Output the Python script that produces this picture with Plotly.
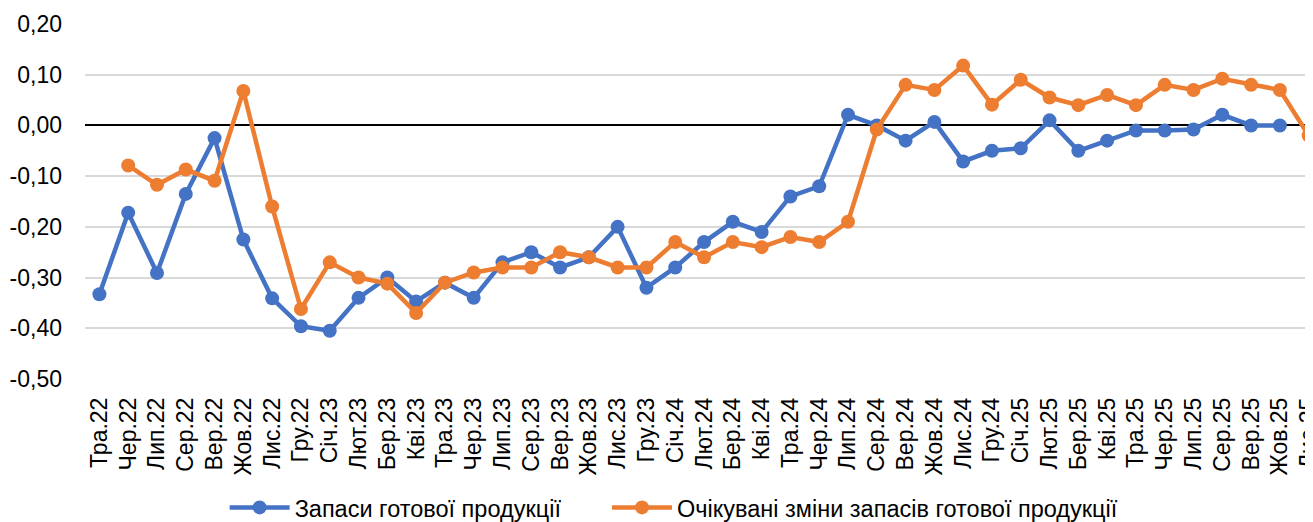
import plotly.graph_objects as go

categories = ["Тра.22","Чер.22","Лип.22","Сер.22","Вер.22","Жов.22","Лис.22","Гру.22",
              "Січ.23","Лют.23","Бер.23","Кві.23","Тра.23","Чер.23","Лип.23","Сер.23","Вер.23","Жов.23","Лис.23","Гру.23",
              "Січ.24","Лют.24","Бер.24","Кві.24","Тра.24","Чер.24","Лип.24","Сер.24","Вер.24","Жов.24","Лис.24","Гру.24",
              "Січ.25","Лют.25","Бер.25","Кві.25","Тра.25","Чер.25","Лип.25","Сер.25","Вер.25","Жов.25","Лис.25"]

stocks = [-0.333, -0.172, -0.291, -0.135, -0.025, -0.225, -0.341, -0.396,
          -0.405, -0.340, -0.30, -0.347, -0.31, -0.34, -0.27, -0.25, -0.28, -0.26, -0.20, -0.32,
          -0.28, -0.23, -0.19, -0.21, -0.14, -0.12, 0.021, 0.0, -0.03, 0.007, -0.071, -0.05,
          -0.045, 0.01, -0.05, -0.03, -0.01, -0.01, -0.008, 0.021, 0.0, 0.0, None]

expected = [None, -0.079, -0.117, -0.087, -0.109, 0.068, -0.16, -0.362,
            -0.27, -0.30, -0.312, -0.37, -0.31, -0.29, -0.28, -0.28, -0.25, -0.26, -0.28, -0.28,
            -0.23, -0.26, -0.23, -0.24, -0.22, -0.23, -0.19, -0.008, 0.08, 0.07, 0.118, 0.041,
            0.09, 0.055, 0.04, 0.06, 0.04, 0.08, 0.07, 0.092, 0.08, 0.07, -0.02]

y_tick_values = [0.20, 0.10, 0.00, -0.10, -0.20, -0.30, -0.40, -0.50]
y_tick_labels = ["0,20", "0,10", "0,00", "-0,10", "-0,20", "-0,30", "-0,40", "-0,50"]

series_names = ["Запаси готової продукції", "Очікувані зміни запасів готової продукції"]
colors = ["#4472C4", "#ED7D31"]
legend_ids = ["legend", "legend2"]

fig = go.Figure()
for name, vals, col, lg in zip(series_names, [stocks, expected], colors, legend_ids):
    fig.add_trace(go.Scatter(
        x=categories, y=vals, name=name, mode="lines+markers",
        line=dict(color=col, width=4.5),
        marker=dict(color=col, size=14),
        connectgaps=False, legend=lg,
    ))

legend_style = dict(orientation="h", xref="container", xanchor="left",
                    yref="container", yanchor="middle", y=0.028,
                    font=dict(size=23.5), itemwidth=60, bgcolor="rgba(0,0,0,0)")

# page body has an 8px margin: figure is drawn at (8, 8)
fig.update_layout(
    width=1305, height=514,
    margin=dict(l=77, r=0, t=16, b=143),
    paper_bgcolor="white", plot_bgcolor="white",
    font=dict(family="Liberation Sans, Arial, sans-serif", size=23, color="#000000"),
    showlegend=True,
    legend=dict(legend_style, x=0.166),
    legend2=dict(legend_style, x=0.459),
)
fig.update_xaxes(
    type="category", range=[-0.5, 42.15], tickangle=-90,
    showgrid=False, showline=False, ticks="", ticklabelstandoff=13,
    tickfont=dict(size=23), automargin=False,
)
fig.update_yaxes(
    range=[-0.5, 0.2], tickvals=y_tick_values, ticktext=y_tick_labels,
    showgrid=True, gridcolor="#D9D9D9", gridwidth=1.5,
    zeroline=True, zerolinecolor="#000000", zerolinewidth=2,
    showline=False, ticks="", ticklabelstandoff=22,
    tickfont=dict(size=23), automargin=False,
)

fig.write_html("out.html")
